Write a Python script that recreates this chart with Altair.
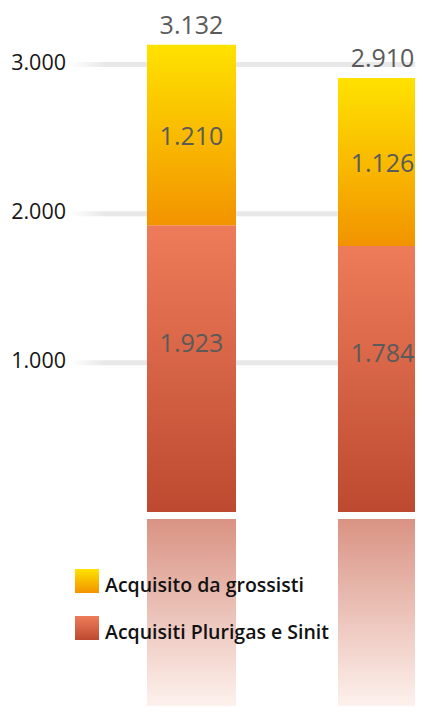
import altair as alt
import pandas as pd

# ---- data ----
categories = ["Colonna 1", "Colonna 2"]
series_names = ["Acquisito da grossisti", "Acquisiti Plurigas e Sinit"]
plurigas_sinit = [1923, 1784]
grossisti = [1210, 1126]
totals = [3132, 2910]
tick_values = [1000, 2000, 3000]
tick_labels = ["1.000", "2.000", "3.000"]


def it_fmt(v):
    return f"{v:,}".replace(",", ".")


df = pd.DataFrame({
    "cat": categories,
    "pluri": plurigas_sinit,
    "gross": grossisti,
    "total": totals,
})
df["top"] = df["pluri"] + df["gross"]
df["pluri_mid"] = df["pluri"] / 2
df["gross_mid"] = df["pluri"] + df["gross"] / 2
df["pluri_lab"] = [it_fmt(v) for v in df["pluri"]]
df["gross_lab"] = [it_fmt(v) for v in df["gross"]]
df["total_lab"] = [it_fmt(v) for v in df["total"]]

ticks_df = pd.DataFrame({"tick": tick_values, "label": tick_labels})

Y_MIN, Y_MAX = -1301, 3379
REFL_GAP = 47

df["refl_top"] = -REFL_GAP
df["refl_bot"] = Y_MIN

yscale = alt.Scale(domain=[Y_MIN, Y_MAX], nice=False, zero=False)
xscale = alt.Scale(domain=categories, range=[0, 558], paddingInner=0.534, paddingOuter=0.7277)

FONT = "Open Sans"


def vgrad(c0, c1):
    return alt.LinearGradient(
        gradient="linear",
        stops=[alt.GradientStop(color=c0, offset=0), alt.GradientStop(color=c1, offset=1)],
        x1=0, x2=0, y1=0, y2=1,
    )


grad_orange = vgrad("#ffe200", "#f29300")
grad_red = vgrad("#ee7c5a", "#bd4a30")
grad_refl = vgrad("#d99383", "#fdf1ed")
grad_grid = alt.LinearGradient(
    gradient="linear",
    stops=[
        alt.GradientStop(color="#ffffff", offset=0),
        alt.GradientStop(color="#e8e8e8", offset=0.07),
        alt.GradientStop(color="#e8e8e8", offset=1),
    ],
    x1=0, x2=1, y1=0, y2=0,
)

X = alt.X("cat:N", scale=xscale, axis=None)

grid = alt.Chart(ticks_df).mark_tick(
    orient="horizontal", thickness=5, size=498, color=grad_grid, opacity=1
).encode(
    y=alt.Y("tick:Q", scale=yscale, axis=None),
    x=alt.value(311),
)

ylabels = alt.Chart(ticks_df).mark_text(
    align="right", baseline="middle", fontSize=21.5, font=FONT, fontWeight=400,
    color="#161616", dy=-1
).encode(
    y=alt.Y("tick:Q", scale=yscale, axis=None),
    x=alt.value(58),
    text="label:N",
)

base = alt.Chart(df)

refl = base.mark_bar(color=grad_refl).encode(
    x=X, y=alt.Y("refl_top:Q", scale=yscale, axis=None), y2="refl_bot:Q"
)

bar_red = base.mark_bar(color=grad_red).encode(
    x=X, y=alt.Y("pluri:Q", scale=yscale, axis=None), y2=alt.datum(0)
)

bar_orange = base.mark_bar(color=grad_orange).encode(
    x=X, y=alt.Y("top:Q", scale=yscale, axis=None), y2="pluri:Q"
)

txt_style = dict(align="center", baseline="middle", fontSize=25, font=FONT,
                 fontWeight=400, color="#5a5a5a")

lab_total = base.mark_text(dy=-19, **txt_style).encode(
    x=X, y=alt.Y("total:Q", scale=yscale, axis=None), text="total_lab:N"
)
lab_gross = base.mark_text(dy=2, **txt_style).encode(
    x=X, y=alt.Y("gross_mid:Q", scale=yscale, axis=None), text="gross_lab:N"
)
lab_pluri = base.mark_text(dy=-25, **txt_style).encode(
    x=X, y=alt.Y("pluri_mid:Q", scale=yscale, axis=None), text="pluri_lab:N"
)

# legend (drawn manually to keep gradient swatches)
leg1 = pd.DataFrame({"name": [series_names[0]]})
leg2 = pd.DataFrame({"name": [series_names[1]]})

sw1 = alt.Chart(leg1).mark_rect(color=grad_orange).encode(
    x=alt.value(67), x2=alt.value(91), y=alt.value(561), y2=alt.value(585)
)
sw2 = alt.Chart(leg2).mark_rect(color=grad_red).encode(
    x=alt.value(67), x2=alt.value(91), y=alt.value(608), y2=alt.value(632)
)
leg_style = dict(align="left", baseline="alphabetic", fontSize=19.5, font=FONT,
                 fontWeight=600, color="#111111")
lt1 = alt.Chart(leg1).mark_text(**leg_style).encode(
    x=alt.value(97), y=alt.value(584), text="name:N"
)
lt2 = alt.Chart(leg2).mark_text(**leg_style).encode(
    x=alt.value(97), y=alt.value(631), text="name:N"
)

chart = alt.layer(
    grid, ylabels, refl, bar_red, bar_orange, lab_total, lab_gross, lab_pluri,
    sw1, sw2, lt1, lt2,
).properties(
    width=407, height=698,
    autosize=alt.AutoSizeParams(type="none"),
    padding=0,
).configure_view(strokeWidth=0)

chart.save("out.html", embed_options={"renderer": "svg", "actions": False})
